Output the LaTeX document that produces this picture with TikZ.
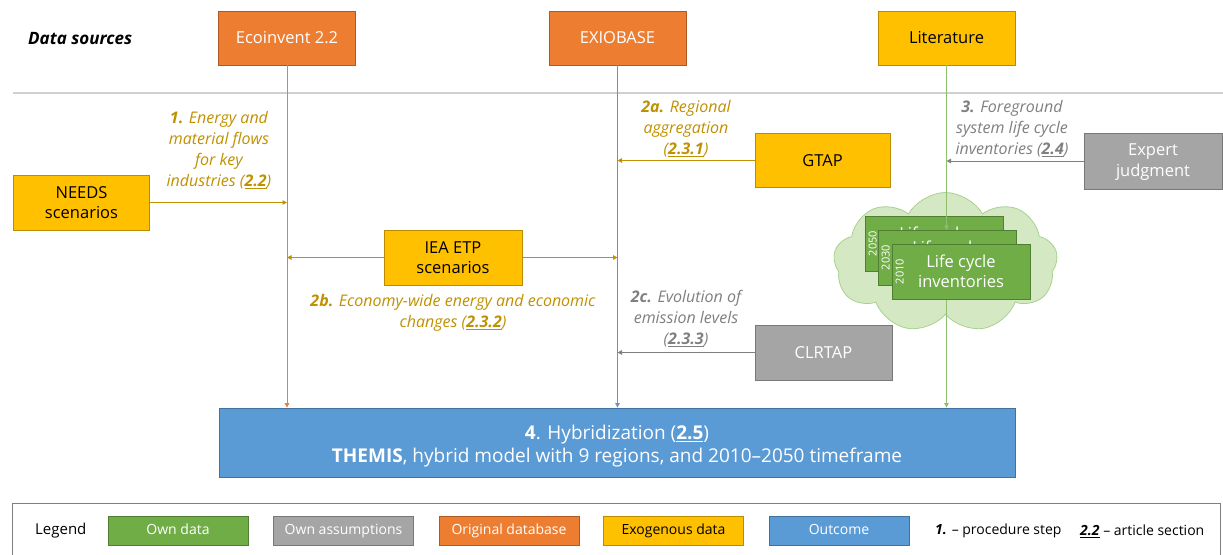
\documentclass[tikz,border=0pt]{standalone}
\usepackage{fontspec}
\setmainfont{Open Sans}
\usetikzlibrary{arrows.meta,shapes.symbols}

\definecolor{orangeF}{HTML}{ED7D31}
\definecolor{orangeD}{HTML}{AE5A21}
\definecolor{yellowF}{HTML}{FFC000}
\definecolor{yellowD}{HTML}{BC8C00}
\definecolor{grayF}{HTML}{A5A5A5}
\definecolor{grayD}{HTML}{787878}
\definecolor{blueF}{HTML}{5B9BD5}
\definecolor{blueD}{HTML}{41719C}
\definecolor{greenF}{HTML}{70AD47}
\definecolor{greenD}{HTML}{507E32}
\definecolor{goldT}{HTML}{BF9000}
\definecolor{grayT}{HTML}{7F7F7F}
\definecolor{cloudF}{HTML}{D5E8C4}
\definecolor{cloudD}{HTML}{A9D18E}
\definecolor{sepline}{HTML}{D0D0D0}
\definecolor{exioline}{HTML}{6F8DCB}
\definecolor{litline}{HTML}{8DBF6C}

\newcommand\boxfont{\fontsize{16.5}{20.5}\selectfont}
\newcommand\notefont{\fontsize{16}{21}\selectfont}
\newcommand\legfont{\fontsize{14}{17}\selectfont}

\tikzset{
  cell/.style={line width=0.8pt, align=center, inner sep=0pt, font=\boxfont,
               minimum width=137, minimum height=54},
  orangebox/.style={cell, fill=orangeF, draw=orangeD, text=white},
  yellowbox/.style={cell, fill=yellowF, draw=yellowD, text=black},
  graybox/.style={cell, fill=grayF, draw=grayD, text=white},
  bluebox/.style={cell, fill=blueF, draw=blueD, text=white},
  greenbox/.style={cell, fill=greenF, draw=greenD, text=white},
  note/.style={align=center, inner sep=0pt, font=\itshape\notefont},
  goldnote/.style={note, text=goldT},
  graynote/.style={note, text=grayT},
  flow/.style={line width=1pt, -{Triangle[length=4.5pt,width=4.5pt]}},
  legitem/.style={minimum width=140, minimum height=29, font=\legfont,
                  text height=10pt, text depth=3pt, inner sep=0pt},
  year/.style={rotate=90, text=white, font=\fontsize{11}{12}\selectfont, inner sep=0pt,
               text height=8pt, text depth=0pt}
}

\begin{document}
\begin{tikzpicture}[x=1pt,y=-1pt]
\useasboundingbox (0,0) rectangle (1223,554);

% header row
\node[anchor=west, inner sep=0pt, font=\bfseries\itshape\fontsize{17}{20}\selectfont] (dslabel) at (28,39) {Data sources};
\node[orangebox] (eco) at (287,38) {Ecoinvent 2.2};
\node[orangebox] (exio) at (617.5,38) {EXIOBASE};
\node[yellowbox] (lit) at (946.5,38) {Literature};

\coordinate (sepL) at (13,93);
\coordinate (sepR) at (1223,93);
\draw[sepline, line width=1.2pt] (sepL) -- (sepR);

% result box
\node[bluebox, minimum width=796, minimum height=69] (hyb) at (617,442.5) {};
\node[align=center, inner sep=0pt, text=white, font=\fontsize{19}{23}\selectfont] (hybtext) at (617,446)
  {\textbf{4}. Hybridization (\underline{\textbf{2.5}})\\
   \textbf{THEMIS}, hybrid model with 9 regions, and 2010--2050 timeframe};

% exogenous inputs
\node[yellowbox, minimum width=136, minimum height=55] (needs) at (81.5,202.5) {NEEDS\\scenarios};
\node[yellowbox, minimum width=138, minimum height=55] (iea) at (453,257.5) {IEA ETP\\scenarios};
\node[yellowbox, minimum width=135, minimum height=54] (gtap) at (822.5,160.5) {GTAP};
\node[graybox, minimum width=138, minimum height=56] (expert) at (1153,161) {\rule{0pt}{14pt}Expert\\judgment};
\node[graybox, minimum width=137, minimum height=55] (clrtap) at (823.5,352.5) {CLRTAP};

% main vertical flows
\draw[flow, orangeF] (eco.south) -- (eco.south |- hyb.north);
\draw[flow, exioline] (exio.south) -- (exio.south |- hyb.north);

% side inputs into the vertical flows
\draw[flow, goldT] (needs.east) -- (needs.east -| eco.south);
\draw[flow, goldT] (iea.west) -- (iea.west -| eco.south);
\draw[flow, goldT] (iea.east) -- (iea.east -| exio.south);
\draw[flow, goldT] (gtap.west) -- (gtap.west -| exio.south);
\draw[flow, grayT] (clrtap.west) -- (clrtap.west -| exio.south);

% life cycle inventories cloud
\node[cloud, cloud puffs=9, cloud puff arc=120, cloud ignores aspect, fill=cloudF, draw=cloudD,
      line width=0.8pt, minimum width=224, minimum height=140, inner sep=0pt] (cld) at (945.5,262.5) {};
\draw[flow, litline] (lit.south) -- (lit.south |- hyb.north);
\draw[flow, grayT] (expert.west) -- (expert.west -| lit.south);

\node[greenbox, minimum width=138, minimum height=55] (lci50) at (934,243.5) {Life cycle\\inventories};
\node[year] (y50) at ([xshift=8pt]lci50.west) {2050};
\coordinate (lcitip) at (946.5,230);
\draw[flow, litline] (lci50.north -| lit.south) -- (lcitip);
\node[greenbox, minimum width=138, minimum height=55] (lci30) at (947,257.5) {Life cycle\\inventories};
\node[year] (y30) at ([xshift=8pt]lci30.west) {2030};
\node[greenbox, minimum width=138, minimum height=55] (lci10) at (961,271.5) {Life cycle\\inventories};
\node[year] (y10) at ([xshift=8pt]lci10.west) {2010};

% step annotations
\node[goldnote] (n1) at (219,150.5)
  {\textbf{1.} Energy and\\material flows\\for key\\industries (\underline{\textbf{2.2}})};
\node[goldnote] (n2a) at (686,128.5)
  {\textbf{2a.} Regional\\aggregation\\(\underline{\textbf{2.3.1}})};
\node[goldnote] (n2b) at (453,313)
  {\textbf{2b.} Economy-wide energy and economic\\changes (\underline{\textbf{2.3.2}})};
\node[graynote] (n2c) at (686,319)
  {\textbf{2c.} Evolution of\\emission levels\\(\underline{\textbf{2.3.3}})};
\node[graynote] (n3) at (1012,129)
  {\textbf{3.} Foreground\\system life cycle\\inventories (\underline{\textbf{2.4}})};

% legend
\node[draw=grayT, line width=1pt, minimum width=1208, minimum height=54, anchor=north west, inner sep=0pt] (legframe) at (12,503) {};
\node[anchor=west, inner sep=0pt, font=\fontsize{15}{18}\selectfont] (legtitle) at (35,531) {Legend};
\node[legitem, fill=greenF, draw=greenD, text=white] (lgown) at (178,530.5) {Own data};
\node[legitem, fill=grayF, draw=grayD, text=white] (lgass) at (343.5,530.5) {Own assumptions};
\node[legitem, fill=orangeF, draw=orangeD, text=white] (lgorig) at (509,530.5) {Original database};
\node[legitem, fill=yellowF, draw=yellowD, text=black] (lgexo) at (673.5,530.5) {Exogenous data};
\node[legitem, fill=blueF, draw=blueD, text=white] (lgout) at (839,530.5) {Outcome};
\node[anchor=west, inner sep=0pt, font=\legfont] (lgstep) at (935,531) {\textbf{\textit{1.}} -- procedure step};
\node[anchor=west, inner sep=0pt, font=\legfont] (lgsec) at (1080,531) {\underline{\textbf{\textit{2.2}}} -- article section};
\end{tikzpicture}
\end{document}
